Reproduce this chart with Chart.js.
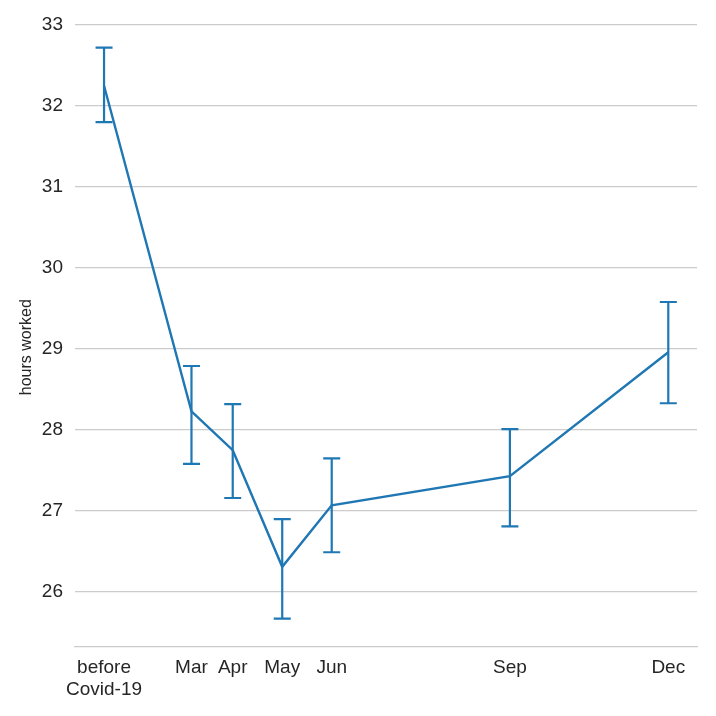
<!DOCTYPE html>
<html>
<head>
<meta charset="utf-8">
<script src="https://cdn.jsdelivr.net/npm/chart.js@4.4.0/dist/chart.umd.min.js"></script>
<style>
  html, body { margin: 0; padding: 0; background: #fff; }
  #wrap { width: 716px; height: 716px; }
</style>
</head>
<body>
<div id="wrap"><canvas id="chart"></canvas></div>
<script>
// x positions are days from the "before" reference point
const periods = [['before', 'Covid-19'], 'Mar', 'Apr', 'May', 'Jun', 'Sep', 'Dec'];
const dayPos = [0, 53, 78, 108, 138, 246, 342];
const hours = [32.25, 28.23, 27.75, 26.31, 27.07, 27.43, 28.96];
const hoursLow = [31.80, 27.58, 27.16, 25.67, 26.49, 26.81, 28.33];
const hoursHigh = [32.72, 28.79, 28.32, 26.90, 27.65, 28.01, 29.58];
const yTicks = [26, 27, 28, 29, 30, 31, 32, 33];
const yTitle = 'hours worked';

const lineColor = '#1f77b4';

// draw vertical error bars with caps
const errorBars = {
  id: 'errorBars',
  afterDatasetsDraw(chart) {
    const { ctx, scales: { x, y } } = chart;
    ctx.save();
    ctx.strokeStyle = lineColor;
    ctx.lineWidth = 2.2;
    dayPos.forEach((d, i) => {
      const px = x.getPixelForValue(d);
      const top = y.getPixelForValue(hoursHigh[i]);
      const bot = y.getPixelForValue(hoursLow[i]);
      ctx.beginPath();
      ctx.moveTo(px, top); ctx.lineTo(px, bot);
      ctx.moveTo(px - 8.5, top); ctx.lineTo(px + 8.5, top);
      ctx.moveTo(px - 8.5, bot); ctx.lineTo(px + 8.5, bot);
      ctx.stroke();
    });
    ctx.restore();
  }
};

// y axis title, a little below the middle like the original
const sideTitle = {
  id: 'sideTitle',
  afterDraw(chart) {
    const { ctx, chartArea } = chart;
    ctx.save();
    ctx.translate(27, (chartArea.top + chartArea.bottom) / 2 + 12);
    ctx.rotate(-Math.PI / 2);
    ctx.fillStyle = '#262626';
    ctx.font = '16px "Liberation Sans"';
    ctx.textAlign = 'center';
    ctx.textBaseline = 'middle';
    ctx.fillText(yTitle, 0, 0);
    ctx.restore();
  }
};

new Chart(document.getElementById('chart'), {
  type: 'line',
  data: {
    datasets: [{
      data: dayPos.map((d, i) => ({ x: d, y: hours[i] })),
      borderColor: lineColor,
      borderWidth: 2.4,
      pointRadius: 0,
      tension: 0
    }]
  },
  options: {
    responsive: true,
    maintainAspectRatio: false,
    animation: false,
    layout: { padding: { top: 16, right: 19, left: 17, bottom: 0 } },
    plugins: { legend: { display: false }, tooltip: { enabled: false } },
    scales: {
      x: {
        type: 'linear',
        min: -17.6,
        max: 359.4,
        afterBuildTicks: axis => { axis.ticks = dayPos.map(v => ({ value: v })); },
        afterFit: axis => { axis.height = 69; },
        ticks: {
          autoSkip: false,
          maxRotation: 0,
          color: '#262626',
          font: { family: 'Liberation Sans', size: 19 },
          padding: 9,
          callback: (v) => periods[dayPos.indexOf(v)]
        },
        grid: { display: false, drawTicks: false },
        border: { display: true, color: '#cccccc', width: 1.2 }
      },
      y: {
        min: 25.32,
        max: 33.02,
        afterBuildTicks: axis => { axis.ticks = yTicks.map(v => ({ value: v })); },
        afterFit: axis => { axis.width = 58; },
        ticks: {
          color: '#262626',
          font: { family: 'Liberation Sans', size: 19 },
          padding: 12
        },
        grid: { color: '#cccccc', lineWidth: 1.2, drawTicks: false },
        border: { display: false }
      }
    }
  },
  plugins: [errorBars, sideTitle]
});
</script>
</body>
</html>
